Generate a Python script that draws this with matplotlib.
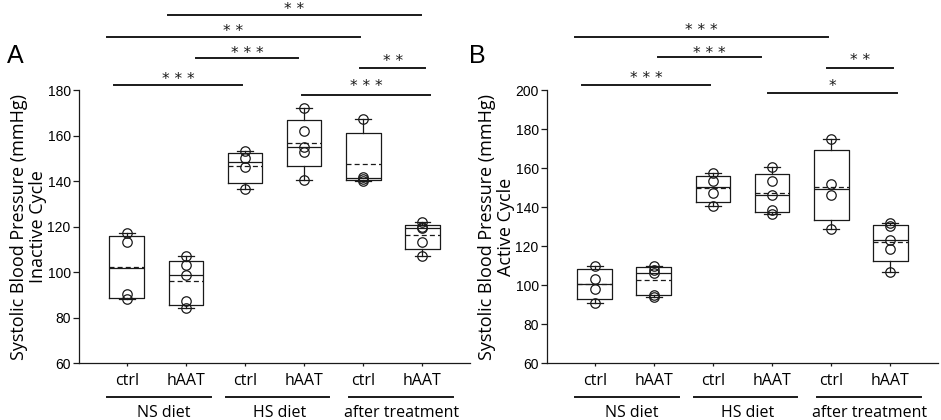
import matplotlib.pyplot as plt
import numpy as np

# ---- data ----
groups = ['ctrl', 'hAAT', 'ctrl', 'hAAT', 'ctrl', 'hAAT']
diet_labels = ['NS diet', 'HS diet', 'after treatment']

# panel A: inactive cycle
inactive_pts = [
    [117.1, 113.2, 90.2, 88.3],
    [106.9, 102.9, 98.9, 87.2, 84.3],
    [153.0, 150.1, 146.2, 136.7],
    [172.3, 161.9, 155.1, 152.9, 140.6],
    [167.1, 141.8, 141.0, 140.0],
    [122.2, 120.0, 119.2, 113.3, 106.9],
]
inactive_q1 = [88.7, 85.6, 139.0, 146.8, 140.3, 109.9]
inactive_q3 = [116.0, 105.0, 152.1, 167.0, 160.9, 120.6]

# panel B: active cycle
active_pts = [
    [109.8, 102.9, 98.1, 90.6],
    [109.8, 107.7, 106.0, 94.7, 93.6],
    [157.3, 153.2, 147.2, 140.3],
    [160.4, 153.2, 146.4, 138.5, 136.4],
    [175.0, 152.0, 146.2, 128.7],
    [131.8, 130.4, 123.2, 118.4, 106.9],
]
active_q1 = [92.6, 94.7, 142.4, 137.3, 133.5, 112.4]
active_q3 = [108.4, 109.1, 156.1, 156.8, 169.2, 130.7]

# significance bars: (x start, x end, y line, y of stars centre, label)
sig_A = [
    (-0.22, 1.95, 182.1, 186.8, '***'),
    (1.17, 2.90, 194.2, 198.0, '***'),
    (-0.34, 3.95, 203.2, 207.5, '**'),
    (0.69, 4.98, 213.0, 217.3, '**'),
    (3.95, 5.05, 189.5, 194.4, '**'),
    (2.97, 5.14, 177.9, 183.4, '***'),
]
sig_B = [
    (-0.34, 3.94, 227.1, 232.8, '***'),
    (1.07, 2.81, 216.7, 221.1, '***'),
    (3.93, 5.04, 211.5, 217.2, '**'),
    (-0.21, 1.95, 202.4, 208.3, '***'),
    (2.94, 5.11, 198.3, 204.3, '*'),
]

diet_spans = [(-0.34, 1.42), (1.68, 3.42), (3.76, 5.53)]
diet_centers = [0.62, 2.58, 4.65]

LC = '#1a1a1a'
LABEL_FONT = 'Open Sans'
TICK_FONT = 'Liberation Sans'


def draw_panel(ax, pts, q1, q3, ylim, yticks, ylabel, sigs, letter, letter_x):
    stats = []
    for p, lo, hi in zip(pts, q1, q3):
        p = np.array(p)
        stats.append(dict(med=np.median(p), q1=lo, q3=hi, mean=p.mean(),
                          whislo=p.min(), whishi=p.max(), fliers=[]))
    pos = np.arange(len(pts))
    ax.bxp(stats, positions=pos, widths=0.59, capwidths=0.26,
           showmeans=True, meanline=True,
           boxprops=dict(color=LC, lw=0.9),
           whiskerprops=dict(color=LC, lw=0.9),
           capprops=dict(color=LC, lw=0.9),
           medianprops=dict(color=LC, lw=0.9),
           meanprops=dict(color=LC, lw=0.9, ls=(0, (4, 2.5))))
    for i, p in enumerate(pts):
        ax.plot(np.full(len(p), pos[i]), p, 'o', ms=6.8, mfc='none',
                mec=LC, mew=0.9, zorder=5)

    ax.set_xlim(-0.81, 5.81)
    ax.set_ylim(*ylim)
    ax.set_yticks(yticks)
    ax.set_xticks(pos)
    ax.set_xticklabels(groups, fontsize=11.5, family=LABEL_FONT)
    for lab in ax.get_yticklabels():
        lab.set_family(TICK_FONT)
        lab.set_fontsize(10)
    ax.tick_params(axis='y', length=4, width=0.9, color=LC, pad=2)
    ax.tick_params(axis='x', length=2.5, width=0.9, color=LC, pad=5)
    ax.spines['top'].set_visible(False)
    ax.spines['right'].set_visible(False)
    for s in ['left', 'bottom']:
        ax.spines[s].set_color(LC)
        ax.spines[s].set_linewidth(0.9)
    ax.set_ylabel(ylabel, fontsize=13, family=LABEL_FONT, labelpad=0,
                  linespacing=1.1)

    tr = ax.get_xaxis_transform()
    for (x0, x1), xc, name in zip(diet_spans, diet_centers, diet_labels):
        ax.plot([x0, x1], [-0.125, -0.125], color=LC, lw=1.4,
                transform=tr, clip_on=False)
        ax.text(xc, -0.183, name, transform=tr, ha='center', va='center',
                fontsize=11.5, family=LABEL_FONT)

    for x0, x1, yl, yt, s in sigs:
        ax.plot([x0, x1], [yl, yl], color=LC, lw=1.4, clip_on=False)
        ax.annotate(' '.join(s), xy=((x0 + x1) / 2, yt),
                    xytext=(0, -6.5), textcoords='offset points',
                    ha='center', va='baseline', fontsize=11,
                    family='DejaVu Sans', color=LC, annotation_clip=False)

    ax.text(letter_x, 1.125, letter, transform=ax.transAxes, fontsize=18,
            family=TICK_FONT, ha='center', va='center')


fig = plt.figure(figsize=(9.41, 4.2), dpi=100)
axA = fig.add_axes([0.084, 0.1357, 0.4155, 0.65])
axB = fig.add_axes([0.5813, 0.1357, 0.4155, 0.65])

draw_panel(axA, inactive_pts, inactive_q1, inactive_q3, (60, 180),
           np.arange(60, 181, 20),
           'Systolic Blood Pressure (mmHg)\nInactive Cycle', sig_A, 'A', -0.164)
draw_panel(axB, active_pts, active_q1, active_q3, (60, 200),
           np.arange(60, 201, 20),
           'Systolic Blood Pressure (mmHg)\nActive Cycle', sig_B, 'B', -0.178)

fig.savefig('out.png', dpi=100)
